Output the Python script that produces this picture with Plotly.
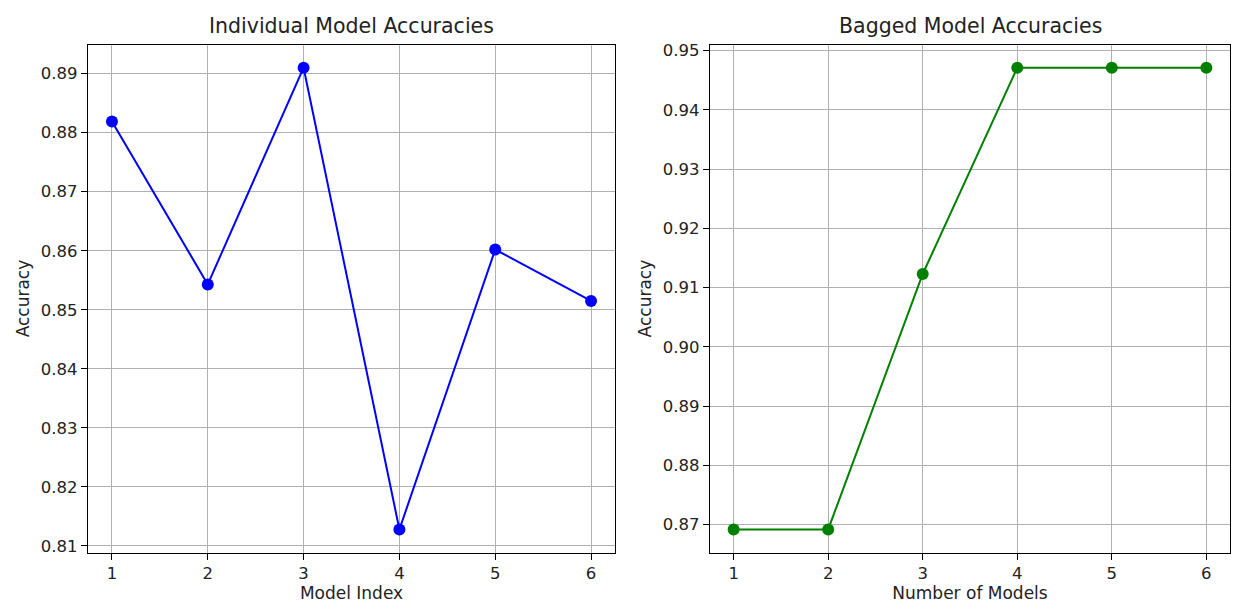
import plotly.graph_objects as go

# Accuracy of each individual model
model_index = [1, 2, 3, 4, 5, 6]
individual_acc = [0.8819, 0.8543, 0.8910, 0.8128, 0.8602, 0.8515]

# Accuracy of the bagged ensemble as models are added
num_models = [1, 2, 3, 4, 5, 6]
bagged_acc = [0.8692, 0.8692, 0.9123, 0.9471, 0.9471, 0.9471]

left_yticks = [0.81, 0.82, 0.83, 0.84, 0.85, 0.86, 0.87, 0.88, 0.89]
right_yticks = [0.87, 0.88, 0.89, 0.90, 0.91, 0.92, 0.93, 0.94, 0.95]

FONT = "DejaVu Sans"
W, H = 1233, 610
TICK_SIZE = 16.5
LABEL_SIZE = 17
TITLE_SIZE = 20.5

fig = go.Figure()

fig.add_trace(go.Scatter(
    x=model_index, y=individual_acc, mode="lines+markers",
    line=dict(color="blue", width=2),
    marker=dict(color="blue", size=12),
    xaxis="x", yaxis="y", showlegend=False,
))
fig.add_trace(go.Scatter(
    x=num_models, y=bagged_acc, mode="lines+markers",
    line=dict(color="green", width=2),
    marker=dict(color="green", size=12),
    xaxis="x2", yaxis="y2", showlegend=False,
))

def pad(lo, hi, frac=0.05):
    s = hi - lo
    return [lo - frac * s, hi + frac * s]

axis_common = dict(
    showline=True, linecolor="black", linewidth=1.2, mirror=True,
    ticks="outside", ticklen=6, tickwidth=1, tickcolor="black",
    showgrid=True, gridcolor="#b0b0b0", gridwidth=1,
    zeroline=False,
    tickfont=dict(family=FONT, size=TICK_SIZE, color="#222"),
)

ydom = [55 / H, 568 / H]

fig.update_layout(
    width=W, height=H,
    margin=dict(l=0, r=0, t=0, b=0),
    paper_bgcolor="white", plot_bgcolor="white",
    font=dict(family=FONT, color="#222"),
    xaxis=dict(domain=[88 / W, 615 / W], range=[0.75, 6.25],
               tickvals=model_index, anchor="y",
               title=dict(text="Model Index", font=dict(family=FONT, size=LABEL_SIZE), standoff=4),
               **axis_common),
    yaxis=dict(domain=ydom, range=pad(min(individual_acc), max(individual_acc)),
               tickvals=left_yticks, tickformat=".2f", anchor="x",
               title=dict(text="Accuracy", font=dict(family=FONT, size=LABEL_SIZE), standoff=6),
               **axis_common),
    xaxis2=dict(domain=[710 / W, 1230 / W], range=[0.75, 6.25],
                tickvals=num_models, anchor="y2",
                title=dict(text="Number of Models", font=dict(family=FONT, size=LABEL_SIZE), standoff=4),
                **axis_common),
    yaxis2=dict(domain=ydom, range=pad(min(bagged_acc), max(bagged_acc)),
                tickvals=right_yticks, tickformat=".2f", anchor="x2",
                title=dict(text="Accuracy", font=dict(family=FONT, size=LABEL_SIZE), standoff=6),
                **axis_common),
    annotations=[
        dict(text="Individual Model Accuracies", x=(88 + 615) / 2 / W, y=ydom[1],
             xref="paper", yref="paper", xanchor="center", yanchor="bottom",
             yshift=5, showarrow=False, font=dict(family=FONT, size=TITLE_SIZE, color="#222")),
        dict(text="Bagged Model Accuracies", x=(710 + 1230) / 2 / W, y=ydom[1],
             xref="paper", yref="paper", xanchor="center", yanchor="bottom",
             yshift=5, showarrow=False, font=dict(family=FONT, size=TITLE_SIZE, color="#222")),
    ],
)

fig.write_html("out.html")
